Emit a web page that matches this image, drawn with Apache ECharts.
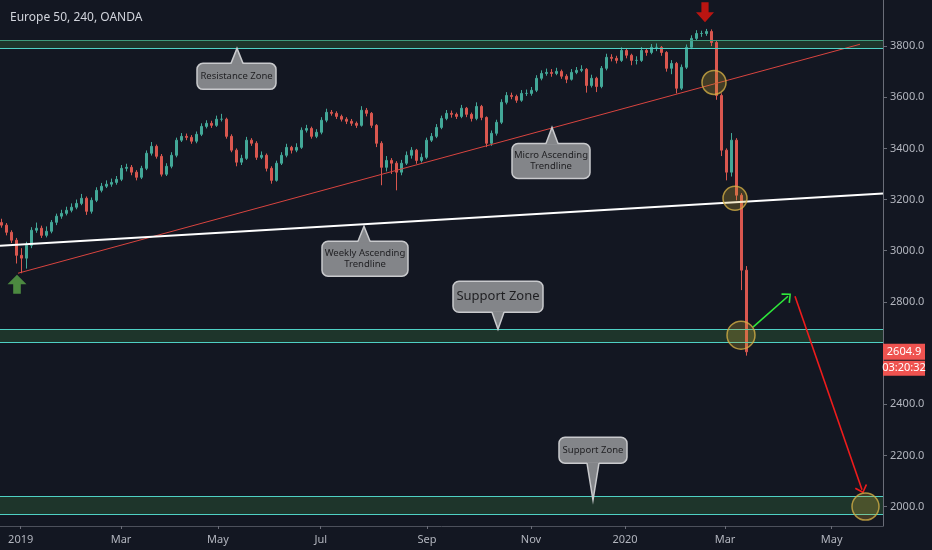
<!DOCTYPE html>
<html>
<head>
<meta charset="utf-8">
<script src="https://cdn.jsdelivr.net/npm/echarts@6/dist/echarts.min.js"></script>
<style>
  html, body { margin: 0; padding: 0; background: #131722; }
  #chart { width: 932px; height: 550px; }
</style>
</head>
<body>
<div id="chart"></div>
<script>
// bar slots (each slot is a few trading days)
const firstOpen = 3110;
const closes = [
  3100, 3072, 3041, 2982, 2971, 3021, 3080, 3088, 3060, 3076,
  3111, 3135, 3146, 3158, 3170, 3185, 3205, 3154, 3197, 3236,
  3252, 3260, 3267, 3279, 3322, 3326, 3307, 3287, 3322, 3381,
  3408, 3369, 3299, 3330, 3373, 3432, 3447, 3443, 3428, 3455,
  3486, 3498, 3490, 3514, 3514, 3447, 3393, 3346, 3361, 3432,
  3420, 3365, 3373, 3322, 3275, 3342, 3373, 3404, 3393, 3404,
  3471, 3478, 3447, 3463, 3510, 3541, 3537, 3525, 3514, 3506,
  3498, 3490, 3549, 3537, 3490, 3420, 3326, 3353, 3342, 3307,
  3342, 3373, 3393, 3353, 3365, 3432, 3447, 3482, 3517, 3537,
  3533, 3525, 3557, 3533, 3517, 3564, 3521, 3420, 3459, 3502,
  3580, 3607, 3603, 3588, 3615, 3615, 3627, 3674, 3693, 3697,
  3693, 3701, 3682, 3670, 3697, 3705, 3709, 3646, 3674, 3642,
  3713, 3756, 3752, 3744, 3783, 3764, 3744, 3744, 3783, 3775,
  3795, 3795, 3775, 3713, 3732, 3635, 3717, 3795, 3830, 3849,
  3849, 3857, 3814, 3607, 3393, 3307, 3432, 3217, 2924, 2604.9
];
const highs = [
  3125, 3108, 3080, 3050, 3010, 3035, 3092, 3110, 3098, 3095,
  3120, 3145, 3160, 3172, 3185, 3200, 3222, 3212, 3208, 3248,
  3265, 3275, 3282, 3292, 3335, 3340, 3335, 3315, 3332, 3392,
  3425, 3415, 3378, 3342, 3385, 3442, 3460, 3458, 3452, 3466,
  3498, 3510, 3508, 3528, 3535, 3520, 3455, 3400, 3375, 3445,
  3440, 3428, 3388, 3380, 3330, 3352, 3385, 3418, 3410, 3420,
  3482, 3492, 3485, 3475, 3522, 3555, 3550, 3545, 3532, 3522,
  3515, 3505, 3565, 3558, 3542, 3495, 3428, 3370, 3362, 3350,
  3355, 3388, 3405, 3398, 3380, 3442, 3460, 3495, 3528, 3550,
  3548, 3540, 3570, 3562, 3540, 3580, 3570, 3525, 3470, 3512,
  3592, 3620, 3618, 3610, 3628, 3630, 3640, 3686, 3705, 3712,
  3710, 3715, 3708, 3690, 3710, 3718, 3725, 3714, 3688, 3680,
  3722, 3770, 3768, 3762, 3795, 3790, 3770, 3760, 3796, 3792,
  3808, 3810, 3800, 3780, 3745, 3738, 3728, 3806, 3842, 3862,
  3860, 3867, 3865, 3820, 3615, 3400, 3460, 3440, 3225, 2940
];
const lows = [
  3090, 3060, 3030, 2950, 2912, 2930, 3010, 3070, 3050, 3052,
  3068, 3100, 3125, 3138, 3150, 3162, 3178, 3140, 3145, 3190,
  3228, 3245, 3250, 3258, 3272, 3310, 3295, 3275, 3280, 3315,
  3372, 3360, 3290, 3292, 3322, 3365, 3425, 3432, 3418, 3420,
  3448, 3478, 3480, 3484, 3505, 3438, 3385, 3330, 3335, 3355,
  3410, 3355, 3358, 3310, 3262, 3270, 3335, 3365, 3380, 3385,
  3398, 3462, 3438, 3440, 3455, 3502, 3528, 3515, 3505, 3495,
  3488, 3480, 3485, 3525, 3480, 3405, 3256, 3310, 3300, 3236,
  3295, 3335, 3360, 3340, 3345, 3358, 3425, 3440, 3475, 3510,
  3520, 3515, 3518, 3522, 3505, 3510, 3510, 3405, 3410, 3450,
  3495, 3572, 3592, 3578, 3582, 3605, 3606, 3620, 3666, 3684,
  3680, 3686, 3672, 3655, 3665, 3690, 3698, 3618, 3638, 3620,
  3635, 3705, 3740, 3732, 3738, 3752, 3725, 3728, 3738, 3762,
  3768, 3780, 3762, 3700, 3690, 3615, 3628, 3710, 3788, 3822,
  3836, 3840, 3800, 3590, 3370, 3275, 3290, 3197, 2846, 2590
];

// axis ticks (x in bar-slot units)
const monthTicks = [3.84, 23.9, 43.3, 63.84, 85.1, 105.9, 124.7, 144.7, 166.04];
const monthLabels = ['2019', 'Mar', 'May', 'Jul', 'Sep', 'Nov', '2020', 'Mar', 'May'];
const priceTicks = [2000, 2200, 2400, 2600, 2800, 3000, 3200, 3400, 3600, 3800];

// drawings
const zoneTops = [3822, 2693, 2041];
const zoneBottoms = [3790, 2643, 1971];
const redTrend = [[3.3, 2912], [171.7, 3807]];
const whiteTrend = [[-0.3, 3019], [176.3, 3224]];
const circles = [[142.5, 3658], [146.7, 3205], [147.9, 2670], [172.8, 2000]];
const circleSizes = [24, 24, 28, 27];
const greenArrow = [[150.3, 2701], [157.3, 2822]];
const redArrow = [[158.7, 2822], [172.1, 2066]];
const upMarker = [3.1, 2869];
const downMarker = [140.7, 3932];
const lastTime = '03:20:32';

const callouts = [
  { text: 'Resistance Zone', at: [47.1, 3791], up: true, w: 79, h: 26, dx: -40, gap: 15, fs: 9.5 },
  { text: 'Micro Ascending\nTrendline', at: [110.1, 3482], up: true, w: 78, h: 35, dx: -40, gap: 16, fs: 9.5 },
  { text: 'Weekly Ascending\nTrendline', at: [72.5, 3096], up: true, w: 86, h: 35, dx: -42, gap: 15, fs: 9.5 },
  { text: 'Support Zone', at: [99.3, 2693], up: false, w: 90, h: 31, dx: -45, gap: 17, fs: 13 },
  { text: 'Support Zone', at: [118.3, 2025], up: false, w: 68, h: 26, dx: -34, gap: 37, fs: 9.5 },
];

const candles = closes.map((c, i) => [i, i === 0 ? firstOpen : closes[i - 1], c, lows[i], highs[i]]);

const chevron = 'path://M0,10 L10,0 L20,10 L18,11.6 L10,3.2 L2,11.6 Z';
const upPath = 'path://M10,0 L20,10 L14,10 L14,20 L6,20 L6,10 L0,10 Z';
const downPath = 'path://M6,0 L14,0 L14,10 L20,10 L10,20 L0,10 L6,10 Z';
const font = '"Noto Sans", "DejaVu Sans", sans-serif';

const chart = echarts.init(document.getElementById('chart'));

const zoneAreas = zoneTops.map((t, i) => [{ yAxis: t }, { yAxis: zoneBottoms[i] }]);
const zoneLines = [];
zoneTops.forEach((t, i) => {
  zoneLines.push({ yAxis: t, lineStyle: { color: i === 0 ? '#3f9a7c' : '#4fd0c4' } });
  zoneLines.push({ yAxis: zoneBottoms[i], lineStyle: { color: '#4fd0c4' } });
});

chart.setOption({
  backgroundColor: '#131722',
  animation: false,
  title: {
    text: 'Europe 50, 240, OANDA',
    left: 5,
    top: 7,
    textStyle: { color: '#d1d4dc', fontSize: 12, fontWeight: 'normal', fontFamily: font },
  },
  grid: { left: 0, right: 49, top: 0, bottom: 24 },
  xAxis: {
    type: 'value',
    min: -0.3,
    max: 176.3,
    splitLine: { show: false },
    axisLine: { show: true, onZero: false, lineStyle: { color: '#4c505b' } },
    axisTick: { show: true, customValues: monthTicks, length: 3, lineStyle: { color: '#6a6d78' } },
    axisLabel: {
      customValues: monthTicks,
      color: '#b2b5be',
      fontSize: 11,
      fontFamily: font,
      margin: 8,
      formatter: (v) => {
        let best = 0;
        monthTicks.forEach((t, i) => { if (Math.abs(t - v) < Math.abs(monthTicks[best] - v)) best = i; });
        return monthLabels[best];
      },
    },
  },
  yAxis: {
    type: 'value',
    position: 'right',
    min: 1924,
    max: 3980,
    scale: true,
    splitLine: { show: false },
    axisLine: { show: true, onZero: false, lineStyle: { color: '#6a6d78' } },
    axisTick: { show: true, customValues: priceTicks, length: 4, lineStyle: { color: '#6a6d78' } },
    axisLabel: {
      customValues: priceTicks,
      color: '#b2b5be',
      fontSize: 11,
      fontFamily: font,
      margin: 7,
      formatter: (v) => v.toFixed(1),
    },
  },
  series: [
    {
      type: 'candlestick',
      data: candles,
      encode: { x: 0, y: [1, 2, 3, 4] },
      barWidth: 2,
      itemStyle: {
        color: '#43a898',
        color0: '#d9574f',
        borderColor: '#43a898',
        borderColor0: '#d9574f',
        borderWidth: 1,
      },
      markArea: {
        silent: true,
        itemStyle: { color: 'rgba(76,175,80,0.2)' },
        data: zoneAreas,
      },
      markLine: {
        silent: true,
        symbol: ['none', 'none'],
        label: { show: false },
        lineStyle: { type: 'solid', width: 1.2 },
        data: zoneLines.concat([
          [
            { coord: greenArrow[0], symbol: 'none', lineStyle: { color: '#2ee83a', width: 1.6 } },
            { coord: greenArrow[1], symbol: chevron, symbolSize: [13, 8] },
          ],
          [
            { coord: redArrow[0], symbol: 'none', lineStyle: { color: '#ee1c1c', width: 1.6 } },
            { coord: redArrow[1], symbol: chevron, symbolSize: [13, 8] },
          ],
        ]),
      },
    },
    {
      type: 'line',
      data: redTrend,
      symbol: 'none',
      silent: true,
      lineStyle: { color: '#d8443f', width: 1 },
    },
    {
      type: 'line',
      data: whiteTrend,
      symbol: 'none',
      silent: true,
      lineStyle: { color: '#ffffff', width: 2 },
    },
    {
      type: 'scatter',
      data: circles,
      symbol: 'circle',
      symbolSize: (v, p) => circleSizes[p.dataIndex],
      silent: true,
      z: 5,
      itemStyle: { color: 'rgba(200,168,50,0.32)', borderColor: '#d2ae45', borderWidth: 1.5 },
    },
    {
      type: 'scatter',
      silent: true,
      z: 5,
      data: [
        { value: upMarker, symbol: upPath, symbolSize: [19, 19], itemStyle: { color: '#5ba648' } },
        { value: downMarker, symbol: downPath, symbolSize: [18, 20], itemStyle: { color: '#e5150e' } },
      ],
    },
  ],
});

// callouts and price labels
const els = [];
callouts.forEach((c) => {
  const p = chart.convertToPixel({ seriesIndex: 0 }, c.at);
  const tx = p[0], ty = p[1];
  const left = tx + c.dx;
  const top = c.up ? ty + c.gap : ty - c.gap - c.h;
  const edge = c.up ? top : top + c.h;
  const inner = c.up ? edge + 1 : edge - 1;
  els.push({
    type: 'rect', z: 100,
    shape: { x: left, y: top, width: c.w, height: c.h, r: 6 },
    style: { fill: '#838589', stroke: '#c9cacd', lineWidth: 1.5 },
  });
  els.push({
    type: 'polygon', z: 101,
    shape: { points: [[tx - 6, inner], [tx, ty], [tx + 6, inner]] },
    style: { fill: '#838589' },
  });
  els.push({
    type: 'polyline', z: 101,
    shape: { points: [[tx - 6, edge], [tx, ty], [tx + 6, edge]] },
    style: { stroke: '#c9cacd', lineWidth: 1.5, fill: null },
  });
  els.push({
    type: 'text', z: 102,
    style: {
      text: c.text, x: left + c.w / 2, y: top + c.h / 2,
      align: 'center', verticalAlign: 'middle',
      textAlign: 'center', textVerticalAlign: 'middle',
      fill: '#1f1f22', font: c.fs + 'px ' + font, lineHeight: c.fs + 1.5,
    },
  });
});

const last = closes[closes.length - 1];
const ly = chart.convertToPixel({ seriesIndex: 0 }, [closes.length - 1, last])[1];
els.push({ type: 'rect', z: 110, shape: { x: 883, y: ly - 8, width: 42, height: 16 }, style: { fill: '#ef5350' } });
els.push({ type: 'text', z: 111, style: { text: last.toFixed(1), x: 904, y: ly, align: 'center', verticalAlign: 'middle', textAlign: 'center', textVerticalAlign: 'middle', fill: '#ffffff', font: '11px ' + font } });
els.push({ type: 'rect', z: 110, shape: { x: 883, y: ly + 9, width: 42, height: 15 }, style: { fill: '#ef5350' } });
els.push({ type: 'text', z: 111, style: { text: lastTime, x: 904, y: ly + 16.5, align: 'center', verticalAlign: 'middle', textAlign: 'center', textVerticalAlign: 'middle', fill: '#ffffff', font: '11px ' + font } });

chart.setOption({ graphic: els });
</script>
</body>
</html>
